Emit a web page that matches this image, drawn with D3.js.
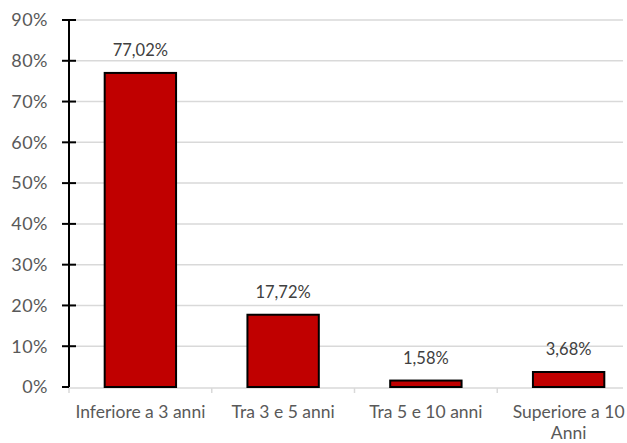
<!DOCTYPE html>
<html>
<head>
<meta charset="utf-8">
<script src="https://cdn.jsdelivr.net/npm/d3@7"></script>
<style>
  body { margin: 0; background: #fff; }
  svg { display: block; font-family: Lato, "Open Sans", sans-serif; }
</style>
</head>
<body>
<div id="chart"></div>
<script>
var categories = ["Inferiore a 3 anni", "Tra 3 e 5 anni", "Tra 5 e 10 anni", "Superiore a 10 Anni"];
var values = [77.02, 17.72, 1.58, 3.68];
var yTicks = [0, 10, 20, 30, 40, 50, 60, 70, 80, 90];

var width = 627, height = 443;
var margin = {top: 20, right: -13, bottom: 56, left: 69};
var innerW = width - margin.left - margin.right,
    innerH = height - margin.top - margin.bottom;

var svg = d3.select("#chart").append("svg")
    .attr("width", width)
    .attr("height", height);

var g = svg.append("g")
    .attr("transform", "translate(" + margin.left + "," + margin.top + ")");

var x = d3.scaleBand()
    .domain(categories)
    .range([0, innerW])
    .paddingInner(0.5)
    .paddingOuter(0.25);

var y = d3.scaleLinear()
    .domain([0, 90])
    .range([innerH, 0]);

// gridlines
g.selectAll(".grid")
    .data(yTicks.slice(1))
    .enter().append("line")
    .attr("x1", 0)
    .attr("x2", 554)
    .attr("y1", function (d) { return y(d); })
    .attr("y2", function (d) { return y(d); })
    .attr("stroke", "#d9d9d9")
    .attr("stroke-width", 1.5);

// category axis (gray)
g.append("line")
    .attr("x1", 0).attr("x2", 554)
    .attr("y1", innerH + 1).attr("y2", innerH + 1)
    .attr("stroke", "#d9d9d9").attr("stroke-width", 1.5);
g.selectAll(".ctick")
    .data(d3.range(categories.length + 1))
    .enter().append("line")
    .attr("x1", function (i) { return i * innerW / categories.length; })
    .attr("x2", function (i) { return i * innerW / categories.length; })
    .attr("y1", innerH + 1).attr("y2", innerH + 6)
    .attr("stroke", "#d9d9d9").attr("stroke-width", 1.5);

// bars
g.selectAll(".bar")
    .data(values)
    .enter().append("rect")
    .attr("x", function (d, i) { return x(categories[i]); })
    .attr("y", function (d) { return y(d); })
    .attr("width", x.bandwidth())
    .attr("height", function (d) { return innerH - y(d); })
    .attr("fill", "#c00000")
    .attr("stroke", "#000")
    .attr("stroke-width", 2);

// data labels
g.selectAll(".lbl")
    .data(values)
    .enter().append("text")
    .attr("x", function (d, i) { return x(categories[i]) + x.bandwidth() / 2; })
    .attr("y", function (d) { return y(d) - 17; })
    .attr("text-anchor", "middle")
    .attr("font-size", 16.5)
    .attr("fill", "#404040")
    .text(function (d) { return d.toFixed(2).replace(".", ",") + "%"; });

// y axis
g.append("line")
    .attr("x1", 0).attr("x2", 0)
    .attr("y1", 0).attr("y2", innerH)
    .attr("stroke", "#000").attr("stroke-width", 2);
g.selectAll(".ytick")
    .data(yTicks)
    .enter().append("line")
    .attr("x1", -7)
    .attr("x2", function (d) { return d === 0 ? 0 : 7; })
    .attr("y1", function (d) { return y(d); })
    .attr("y2", function (d) { return y(d); })
    .attr("stroke", "#000").attr("stroke-width", 2);
g.selectAll(".ylbl")
    .data(yTicks)
    .enter().append("text")
    .attr("x", -21)
    .attr("y", function (d) { return y(d); })
    .attr("dy", "0.35em")
    .attr("text-anchor", "end")
    .attr("font-size", 18)
    .attr("letter-spacing", 0.5)
    .attr("fill", "#595959")
    .text(function (d) { return d + "%"; });

// category labels
var catLines = [["Inferiore a 3 anni"], ["Tra 3 e 5 anni"], ["Tra 5 e 10 anni"], ["Superiore a 10", "Anni"]];
categories.forEach(function (c, i) {
    var t = g.append("text")
        .attr("x", x(c) + x.bandwidth() / 2)
        .attr("y", innerH + 31)
        .attr("text-anchor", "middle")
        .attr("font-size", 17.5)
        .attr("fill", "#595959");
    catLines[i].forEach(function (line, j) {
        t.append("tspan")
            .attr("x", x(c) + x.bandwidth() / 2)
            .attr("dy", j === 0 ? 0 : 21)
            .text(line);
    });
});
</script>
</body>
</html>
